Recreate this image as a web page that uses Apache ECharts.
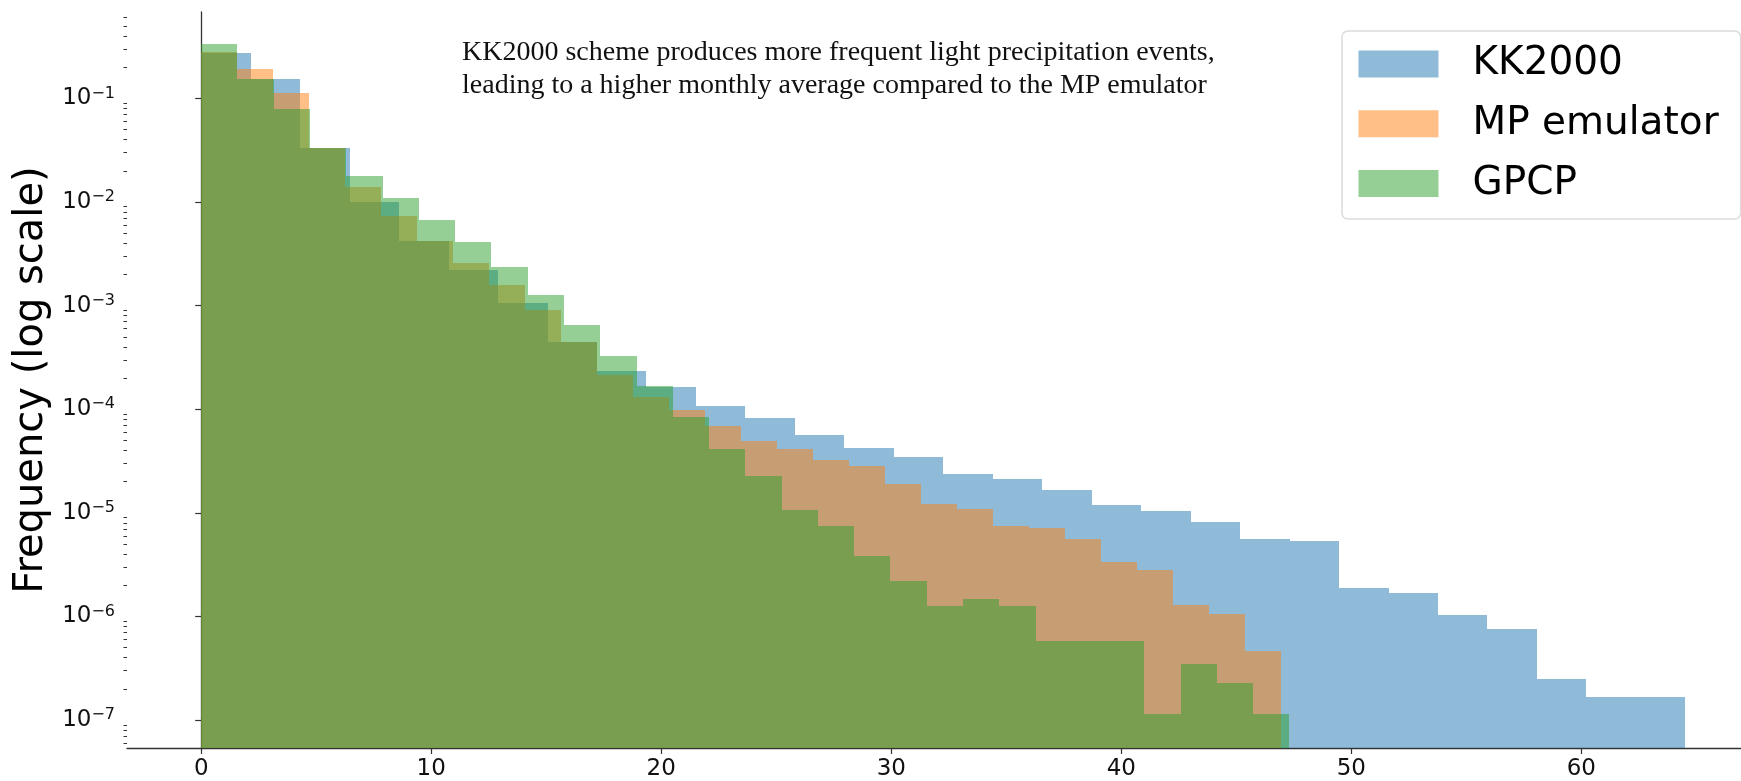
<!DOCTYPE html>
<html>
<head>
<meta charset="utf-8">
<script src="https://cdn.jsdelivr.net/npm/echarts@6/dist/echarts.min.js"></script>
<style>
html,body{margin:0;padding:0;background:#fff;}
#chart{width:1741px;height:781px;}
</style>
</head>
<body>
<div id="chart"></div>
<script>
// ---- data ----
const seriesNames = ['KK2000', 'MP emulator', 'GPCP'];
const binCount = 30;
const kkRange = [0, 64.52];
const mpRange = [0, 46.93];
const gpcpRange = [0, 47.31];
const kkValues = [0.273, 0.153, 0.0331, 0.0101, 0.00423, 0.00222, 0.00106, 0.000441, 0.000232, 0.000163,
  0.000107, 8.22e-5, 5.65e-5, 4.2e-5, 3.44e-5, 2.38e-5, 2.11e-5, 1.65e-5, 1.18e-5, 1.05e-5,
  8.18e-6, 5.65e-6, 5.4e-6, 1.875e-6, 1.69e-6, 1.03e-6, 7.6e-7, 2.5e-7, 1.69e-7, 1.69e-7];
const mpValues = [0.28, 0.191, 0.112, 0.0331, 0.0139, 0.00736, 0.00423, 0.00258, 0.00159, 0.000912,
  0.000441, 0.000216, 0.000131, 9.77e-5, 6.84e-5, 4.9e-5, 4.14e-5, 3.27e-5, 2.82e-5, 1.9e-5,
  1.21e-5, 1.1e-5, 7.43e-6, 7.1e-6, 5.65e-6, 3.37e-6, 2.82e-6, 1.28e-6, 1.05e-6, 4.63e-7];
const gpcpValues = [0.336, 0.153, 0.0787, 0.0331, 0.0179, 0.0109, 0.00664, 0.00407, 0.00235, 0.00127,
  0.000655, 0.000329, 0.000166, 8.4e-5, 4.14e-5, 2.25e-5, 1.06e-5, 7.5e-6, 3.82e-6, 2.21e-6,
  1.25e-6, 1.49e-6, 1.25e-6, 5.78e-7, 5.78e-7, 5.78e-7, 1.14e-7, 3.45e-7, 2.28e-7, 1.14e-7];
const xTicks = [0, 10, 20, 30, 40, 50, 60];
const yTicks = [1e-7, 1e-6, 1e-5, 1e-4, 1e-3, 1e-2, 1e-1];
const annotation = 'KK2000 scheme produces more frequent light precipitation events,\nleading to a higher monthly average compared to the MP emulator';

// ---- axis extents ----
const X_MIN = -3.226, X_MAX = 66.94;
const Y_MIN = Math.pow(10, -7.269), Y_MAX = Math.pow(10, -0.1666);

const yMinorTicks = [];
for (let n = -8; n <= -1; n++) {
  for (let k = 2; k <= 9; k++) {
    const v = k * Math.pow(10, n);
    if (v >= Y_MIN && v <= Y_MAX) yMinorTicks.push(v);
  }
}

function histData(range, values) {
  const w = (range[1] - range[0]) / binCount;
  return values.map((v, i) => [range[0] + i * w, range[0] + (i + 1) * w, v]);
}

function renderBin(params, api) {
  const x0 = api.value(0), x1 = api.value(1), v = api.value(2);
  const pTop = api.coord([x0, v]);
  const pBot = api.coord([x1, Y_MIN]);
  const X0 = Math.round(pTop[0]), X1 = Math.round(pBot[0]);
  const Y0 = Math.round(pTop[1]), Y1 = Math.round(pBot[1]);
  return {
    type: 'rect',
    shape: { x: X0, y: Y0, width: X1 - X0, height: Y1 - Y0 },
    style: { fill: api.visual('color') }
  };
}

const colors = ['rgba(31,119,180,0.5)', 'rgba(255,127,14,0.5)', 'rgba(44,160,44,0.5)'];
const allData = [histData(kkRange, kkValues), histData(mpRange, mpValues), histData(gpcpRange, gpcpValues)];

const FONT = 'DejaVu Sans';
const chart = echarts.init(document.getElementById('chart'), null, { renderer: 'canvas' });

const option = {
  animation: false,
  backgroundColor: '#fff',
  grid: { left: 127, right: 0, top: 12, bottom: 32.7, containLabel: false },
  legend: {
    orient: 'vertical',
    left: 1342,
    top: 31,
    icon: 'rect',
    itemWidth: 80,
    itemHeight: 27,
    itemGap: 20.8,
    padding: [13.5, 22, 16, 16.5],
    backgroundColor: '#fff',
    borderColor: '#dcdcdc',
    borderWidth: 1.5,
    borderRadius: 6,
    selectedMode: false,
    textStyle: { fontFamily: FONT, fontSize: 39, color: '#000', padding: [0, 0, 0, 29] },
    data: seriesNames
  },
  xAxis: {
    type: 'value',
    min: X_MIN,
    max: X_MAX,
    axisLine: { show: true, lineStyle: { color: '#333', width: 1.3 } },
    axisTick: { show: true, length: 6, lineStyle: { color: '#333', width: 1.2 }, customValues: xTicks },
    axisLabel: { show: true, customValues: xTicks, margin: 10, fontFamily: FONT, fontSize: 23, color: '#111' },
    splitLine: { show: false }
  },
  yAxis: [
    {
      type: 'log',
      min: Y_MIN,
      max: Y_MAX,
      name: 'Frequency (log scale)',
      nameLocation: 'middle',
      nameGap: 74,
      nameTextStyle: { fontFamily: FONT, fontSize: 40, color: '#000' },
      axisLine: { show: true, lineStyle: { color: '#333', width: 1.3 } },
      axisTick: { show: true, length: 6, lineStyle: { color: '#333', width: 1.2 }, customValues: yTicks },
      axisLabel: {
        show: true,
        customValues: yTicks,
        margin: 12,
        formatter: function (v) {
          const e = Math.round(Math.log10(v));
          return '{a|10}{b|\u2212' + (-e) + '}';
        },
        rich: {
          a: { fontFamily: FONT, fontSize: 23, color: '#111', lineHeight: 26 },
          b: { fontFamily: FONT, fontSize: 16, color: '#111', verticalAlign: 'top', lineHeight: 18 }
        }
      },
      splitLine: { show: false },
      minorTick: { show: false }
    },
    {
      type: 'log',
      min: Y_MIN,
      max: Y_MAX,
      position: 'left',
      axisLine: { show: false },
      axisTick: { show: true, length: 3.5, lineStyle: { color: '#333', width: 1 }, customValues: yMinorTicks },
      axisLabel: { show: false },
      splitLine: { show: false }
    }
  ],
  graphic: [
    {
      type: 'text',
      left: 462,
      top: 36,
      style: {
        text: annotation,
        fontFamily: 'Liberation Serif',
        fontSize: 28,
        lineHeight: 33,
        fill: '#111'
      },
      z: 10
    }
  ],
  series: seriesNames.map((name, i) => ({
    name: name,
    type: 'custom',
    xAxisIndex: 0,
    yAxisIndex: 0,
    itemStyle: { color: colors[i] },
    renderItem: renderBin,
    encode: { x: [0, 1], y: 2 },
    data: allData[i],
    z: 2
  }))
};

chart.setOption(option);
</script>
</body>
</html>
